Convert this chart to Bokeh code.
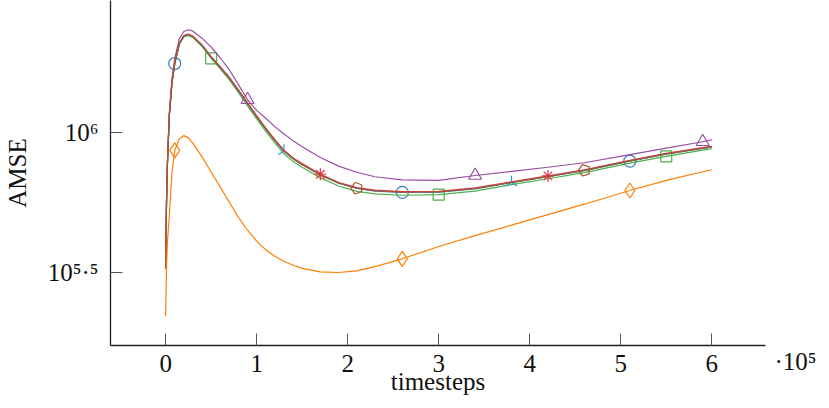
import numpy as np
from bokeh.plotting import figure
from bokeh.models import Range1d, FixedTicker, CustomJSTickFormatter, LinearAxis
from bokeh.embed import file_html
from bokeh.resources import INLINE

# ---------------- data ----------------
timesteps = [0, 1000, 2000, 4000, 7000, 10000, 15000, 20000, 25000, 30000, 40000,
             50000, 60000, 70000, 80000, 90000, 100000, 110000, 120000, 130000,
             140000, 150000, 170000, 190000, 210000, 230000, 260000, 300000,
             340000, 380000, 420000, 460000, 510000, 550000, 590000, 600000]

# log10(AMSE) for each run
blue_log = [5.515, 5.76, 5.89, 6.06, 6.18, 6.2475, 6.318, 6.345, 6.351, 6.343, 6.312,
            6.27, 6.233, 6.195, 6.15, 6.104, 6.058, 6.014, 5.972, 5.934,
            5.907, 5.886, 5.849, 5.82, 5.801, 5.792, 5.787, 5.788,
            5.80, 5.822, 5.843, 5.865, 5.899, 5.924, 5.944, 5.949]
orange_log = [5.345, 5.52, 5.61, 5.70, 5.86, 5.937, 5.978, 5.99, 5.982, 5.962, 5.914,
              5.86, 5.806, 5.752, 5.698, 5.652, 5.613, 5.582, 5.559, 5.541,
              5.527, 5.516, 5.503, 5.501, 5.507, 5.522, 5.55, 5.594,
              5.633, 5.67, 5.708, 5.745, 5.794, 5.83, 5.861, 5.868]
green_log = [5.515, 5.75, 5.89, 6.06, 6.178, 6.245, 6.315, 6.342, 6.348, 6.34, 6.308,
             6.266, 6.228, 6.189, 6.143, 6.096, 6.05, 6.006, 5.964, 5.925,
             5.898, 5.877, 5.839, 5.81, 5.791, 5.782, 5.777, 5.779,
             5.792, 5.815, 5.836, 5.858, 5.892, 5.916, 5.938, 5.943]
purple_log = [5.515, 5.76, 5.90, 6.07, 6.195, 6.265, 6.335, 6.362, 6.368, 6.363, 6.338,
              6.306, 6.268, 6.225, 6.172, 6.118, 6.08, 6.052, 6.022, 5.996,
              5.972, 5.95, 5.912, 5.881, 5.859, 5.843, 5.832, 5.83,
              5.8475, 5.862, 5.877, 5.893, 5.922, 5.945, 5.968, 5.975]
cyan_log = [5.515, 5.76, 5.89, 6.06, 6.18, 6.247, 6.318, 6.345, 6.351, 6.343, 6.312,
            6.27, 6.233, 6.195, 6.15, 6.104, 6.058, 6.014, 5.973, 5.935,
            5.908, 5.887, 5.85, 5.821, 5.802, 5.793, 5.788, 5.789,
            5.801, 5.823, 5.844, 5.866, 5.900, 5.925, 5.945, 5.950]
red_log = [5.515, 5.76, 5.89, 6.06, 6.182, 6.249, 6.32, 6.347, 6.353, 6.345, 6.314,
           6.272, 6.236, 6.198, 6.153, 6.107, 6.061, 6.017, 5.976, 5.938,
           5.91, 5.89, 5.852, 5.822, 5.804, 5.795, 5.79, 5.791,
           5.803, 5.825, 5.846, 5.868, 5.902, 5.927, 5.947, 5.952]
brown_log = [5.515, 5.76, 5.89, 6.06, 6.181, 6.248, 6.319, 6.346, 6.352, 6.344, 6.313,
             6.271, 6.234, 6.196, 6.151, 6.105, 6.059, 6.015, 5.973, 5.935,
             5.908, 5.887, 5.85, 5.821, 5.802, 5.793, 5.788, 5.789,
             5.801, 5.823, 5.844, 5.866, 5.900, 5.925, 5.945, 5.950]

# timesteps at which each run shows a mark
blue_marks = [10000, 260000, 510000]
orange_marks = [10000, 260000, 510000]
green_marks = [50000, 300000, 550000]
purple_marks = [90000, 340000, 590000]
cyan_marks = [130000, 380000]
red_marks = [170000, 420000]
brown_marks = [210000, 460000]

x_ticks = [0, 100000, 200000, 300000, 400000, 500000, 600000]
x_scale_label = "\u00b710\u2075"
y_tick_exponents = ["5.5", "6"]
x_title = "timesteps"
y_title = "AMSE"

# ---------------- layout helpers (canvas pixels -> data) ----------------
X0_PX, X_PX_PER = 163.3, 91.3          # px of x=0, px per 1e5
Y6_PX, Y_PX_PER_DEC = 132.3, 280.0     # px of 10^6, px per decade


def xd(px):
    return (px - X0_PX) / X_PX_PER * 1e5


def yd(py):
    return 10 ** (6 + (Y6_PX - py) / Y_PX_PER_DEC)


FONT = "Liberation Serif"
TXT = "#111111"
W, H = 826, 407
FR_L, FR_R, FR_T, FR_B = 108, 765, 0, 345

p = figure(width=W, height=H, y_axis_type="log",
           x_range=Range1d(xd(FR_L), xd(FR_R)), y_range=Range1d(yd(FR_B), yd(FR_T)),
           output_backend="svg", toolbar_location=None,
           min_border_left=FR_L, min_border_right=W - FR_R, min_border_top=FR_T,
           min_border_bottom=H - FR_B)
p.outline_line_color = None
p.xgrid.visible = False
p.ygrid.visible = False
p.background_fill_color = "white"
p.border_fill_color = "white"

xa = p.xaxis[0]
xa.ticker = FixedTicker(ticks=x_ticks)
xa.formatter = CustomJSTickFormatter(code="return (tick/1e5).toFixed(0);")
xa.major_tick_in = 12
xa.major_tick_out = 0
xa.minor_tick_in = 0
xa.minor_tick_out = 0
xa.axis_line_color = "#222222"
xa.axis_line_width = 1.3
xa.major_tick_line_color = "#555555"
xa.major_tick_line_width = 1
xa.major_label_text_font = FONT
xa.major_label_text_font_size = "25px"
xa.major_label_text_color = TXT
xa.major_label_standoff = 9
xa.axis_label = x_title
xa.axis_label_text_font = FONT
xa.axis_label_text_font_style = "normal"
xa.axis_label_text_font_size = "25px"
xa.axis_label_text_color = TXT
xa.axis_label_standoff = -7

SUP = {"0": "\u2070", "1": "\u00b9", "2": "\u00b2", "3": "\u00b3", "4": "\u2074",
       "5": "\u2075", "6": "\u2076", "7": "\u2077", "8": "\u2078", "9": "\u2079",
       ".": "\u00b7"}
y_labels = {e: "10" + "".join(SUP[c] for c in e) for e in y_tick_exponents}

ya = p.yaxis[0]
ya.ticker = FixedTicker(ticks=[10 ** float(e) for e in y_tick_exponents])
ya.formatter = CustomJSTickFormatter(args=dict(labels=y_labels), code="""
    const e = Math.round(Math.log10(tick) * 10) / 10;
    const k = String(e);
    return (k in labels) ? labels[k] : '';
""")
ya.major_tick_in = 12
ya.major_tick_out = 0
ya.minor_tick_in = 0
ya.minor_tick_out = 0
ya.axis_line_color = "#222222"
ya.axis_line_width = 1.3
ya.major_tick_line_color = "#555555"
ya.major_tick_line_width = 1
ya.major_label_text_font = FONT
ya.major_label_text_font_size = "25px"
ya.major_label_text_color = TXT
ya.major_label_standoff = 12
ya.axis_label = y_title
ya.axis_label_text_font = FONT
ya.axis_label_text_font_style = "normal"
ya.axis_label_text_font_size = "25px"
ya.axis_label_text_color = TXT
ya.axis_label_standoff = 14

# "·10^5" multiplier at the right end of the x axis: a label-only axis whose
# single tick sits at the frame bottom; a leading empty line pushes the text
# down to the level of the x tick labels.
p.extra_y_ranges = {"mult": Range1d(1, 10)}
ra = LinearAxis(y_range_name="mult", ticker=FixedTicker(ticks=[1]),
                formatter=CustomJSTickFormatter(args=dict(t=x_scale_label),
                                                code="return '\\n' + t;"))
ra.axis_line_color = None
ra.major_tick_line_color = None
ra.minor_tick_line_color = None
ra.major_tick_out = 0
ra.major_tick_in = 0
ra.major_label_standoff = 9
ra.major_label_text_font = FONT
ra.major_label_text_font_size = "25px"
ra.major_label_text_color = TXT
p.add_layout(ra, "right")

series = [
    (blue_log, blue_marks, "#377eb8", "circle", 12, 0.0),
    (green_log, green_marks, "#4daf4a", "square", 11, 0.0),
    (purple_log, purple_marks, "#984ea3", "triangle", 13, 0.0),
    (cyan_log, cyan_marks, "#1f9ddb", "y", 13, np.pi),
    (red_log, red_marks, "#e7344d", "asterisk", 12, 0.0),
    (brown_log, brown_marks, "#a65628", "pentagon", 6, 0.0),
    (orange_log, orange_marks, "#ff7f00", "diamond", 15, 0.0),
]

xs = np.array(timesteps, dtype=float)
for logs, marks, color, marker, size, ang in series:
    ys = 10 ** np.array(logs)
    p.line(xs, ys, line_color=color, line_width=1.2)
    idx = [timesteps.index(m) for m in marks]
    mx = xs[idx]
    my = ys[idx]
    if marker == "pentagon":
        try:
            p.ngon(x=mx, y=my, radius=size, radius_units="screen", n=5,
                   angle=np.pi / 2, fill_color=None, line_color=color,
                   line_width=1.2)
        except Exception:
            p.scatter(mx, my, marker="hex", size=12, fill_color=None,
                      line_color=color, line_width=1.2)
    else:
        p.scatter(mx, my, marker=marker, size=size, angle=ang, fill_color=None,
                  line_color=color, line_width=1.2)

open("out.html", "w").write(file_html(p, INLINE))
